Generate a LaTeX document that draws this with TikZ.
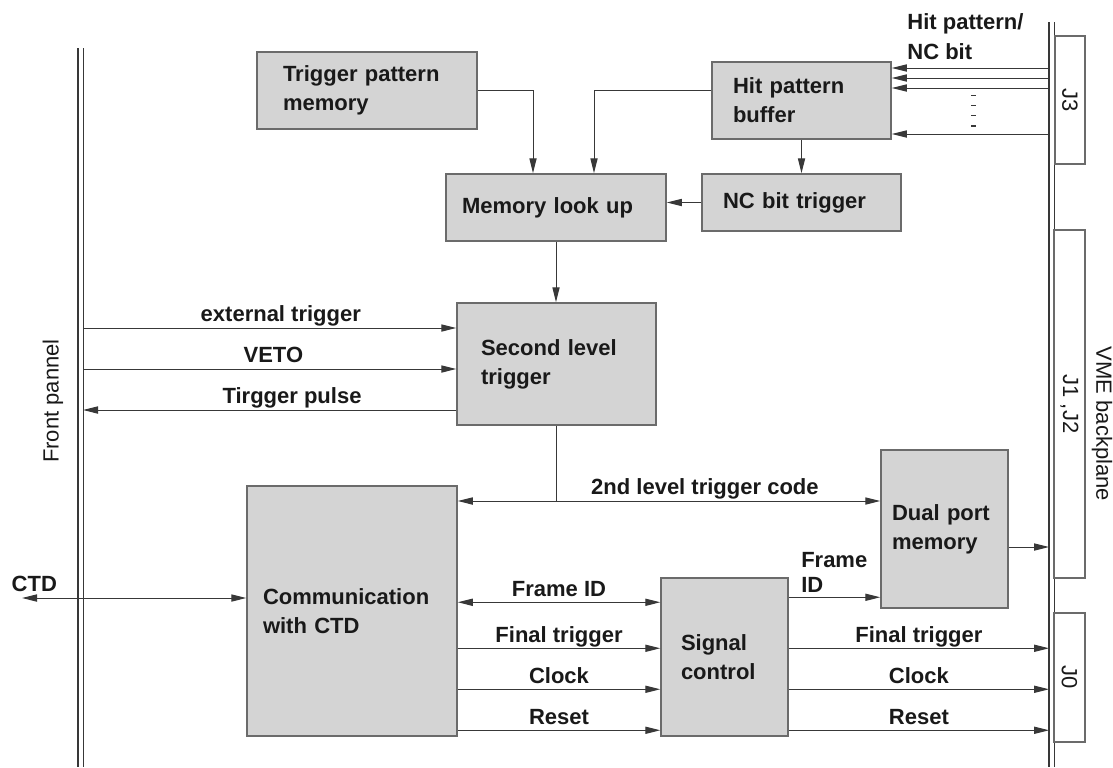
\documentclass[tikz,border=0pt]{standalone}
\usepackage{fontspec}
\setmainfont{Liberation Sans}
\usetikzlibrary{arrows.meta,positioning,calc}
\definecolor{blkfill}{gray}{0.83}
\definecolor{blkline}{gray}{0.42}
\definecolor{wirecol}{gray}{0.22}

\begin{document}
\begin{tikzpicture}[x=0.5pt, y=-0.5pt,
    blk/.style={draw=blkline, fill=blkfill, line width=0.75pt, rectangle, align=left, inner ysep=0pt, font=\fontsize{11}{14.5}\selectfont\bfseries, text=black!90},
    jconn/.style={draw=blkline, line width=0.6pt, rectangle, inner sep=0pt, rotate=-90, font=\fontsize{11}{13}\selectfont, text=black!90},
    wireline/.style={draw=wirecol, line width=0.5pt},
    wire/.style={wireline, -{Triangle[length=7.5pt,width=3.6pt]}},
    biwire/.style={wireline, {Triangle[length=7.5pt,width=3.6pt]}-{Triangle[length=7.5pt,width=3.6pt]}},
    lbl/.style={font=\fontsize{11}{13}\selectfont\bfseries, text=black!90, inner sep=0.5pt, text height=8pt, text depth=2.3pt},
    lbltwo/.style={font=\fontsize{11}{12.5}\selectfont\bfseries, text=black!90, inner sep=0pt, align=left},
    rail/.style={draw=wirecol, line width=0.55pt, double=white, double distance=2pt}]

    \useasboundingbox (0,0) rectangle (1113,767);

    % Front pannel and VME backplane
    \coordinate (fptop) at (80.5,48);
    \coordinate (fpbot) at (80.5,767);
    \coordinate (vmetop) at (1051.5,22);
    \coordinate (vmebot) at (1051.5,767);
    \draw [rail] (fptop) -- (fpbot);
    \draw [rail] (vmetop) -- (vmebot);
    \coordinate (fp) at (83,0);
    \coordinate (vme) at (1049,0);

    \node [rotate=90, font=\fontsize{11}{13}\selectfont, text=black!90] (fplbl) at (53,401) {Front pannel};
    \node [rotate=-90, font=\fontsize{11}{13}\selectfont, text=black!90] (vmelbl) at (1102,424) {VME backplane};

    \node [jconn, minimum width=64pt, minimum height=15pt] (j3) at (1070,100) {J3};
    \node [jconn, minimum width=174pt, minimum height=15.5pt] (j12) at (1069.5,404) {J1 ,J2};
    \node [jconn, minimum width=64.5pt, minimum height=15.5pt] (j0) at (1069.5,677.5) {J0};

    % Blocks
    \node [blk, text width=84pt, inner xsep=13pt, minimum height=38.5pt] (tpm) at (367,90.5) {Trigger pattern\\memory};
    \node [blk, text width=68.5pt, inner xsep=10.5pt, minimum height=38.5pt] (hpb) at (801.5,100.5) {Hit pattern\\buffer};
    \node [blk, text width=94pt, inner xsep=8pt, minimum height=33.5pt] (mlu) at (556,207.5) {Memory look up};
    \node [blk, text width=78.5pt, inner xsep=10.5pt, minimum height=28.5pt] (ncb) at (801.5,202.5) {NC bit trigger};
    \node [blk, text width=75.5pt, inner xsep=12pt, minimum height=61pt] (slt) at (556.5,364) {Second level\\trigger};
    \node [blk, text width=89pt, inner xsep=8pt, minimum height=125pt] (comm) at (352,611) {Communication\\with CTD};
    \node [blk, text width=52.5pt, inner xsep=5.5pt, minimum height=79pt] (dpm) at (944.5,529) {Dual port\\memory};
    \node [blk, text width=43.5pt, inner xsep=10pt, minimum height=79pt] (sigctl) at (724.5,657) {Signal\\control};

    % Hit pattern inputs
    \foreach \y [count=\i] in {68,78,88,134} {
        \coordinate (hp\i) at (1049,\y);
        \draw [wire] (hp\i) -- (hp\i -| hpb.east);
    }
    \foreach \y in {95.5,105.5,115.5,126} \draw [wireline, line width=0.9pt] (971,\y) -- ++(5,0);
    \node [lbltwo, font=\fontsize{11}{15}\selectfont\bfseries, anchor=north west] (hplbl) at (907,13) {Hit pattern/\\NC bit};

    % Memory look up
    \draw [wire] (tpm.east) -| ($(mlu.north)+(-23,0)$);
    \draw [wire] (hpb.west |- tpm.east) -| ($(mlu.north)+(38,0)$);
    \draw [wire] (hpb.south) -- (hpb.south |- ncb.north);
    \draw [wire] (ncb.west) -- (ncb.west -| mlu.east);
    \draw [wire] (mlu.south) -- (mlu.south |- slt.north);

    % Front pannel signals
    \coordinate (ext) at (83,328);
    \coordinate (veto) at (83,369);
    \coordinate (pulse) at (83,410);
    \draw [wire] (ext) -- (ext -| slt.west) node [lbl, above, pos=0.53] {external trigger};
    \draw [wire] (veto) -- (veto -| slt.west) node [lbl, above, pos=0.51] {VETO};
    \draw [wire] (slt.west |- pulse) -- (pulse) node [lbl, above, pos=0.44] {Tirgger pulse};

    % Trigger code
    \coordinate (code) at (559,501);
    \draw [wireline] (slt.south) -- (slt.south |- code);
    \draw [biwire] (code -| comm.east) -- (code -| dpm.west) node [lbl, above, pos=0.585] {2nd level trigger code};

    % CTD
    \coordinate (ctd) at (22,598);
    \draw [biwire] (ctd) -- (ctd -| comm.west) node [lbl, above, pos=0.055] {CTD};

    % Signal control
    \coordinate (fidin) at ([yshift=-12.5pt]sigctl.north west);
    \draw [biwire] (fidin -| comm.east) -- (fidin) node [lbl, above, midway] {Frame ID};
    \coordinate (fidout) at ([yshift=-10pt]sigctl.north east);
    \draw [wire] (fidout) -- (fidout -| dpm.west) node [lbltwo, anchor=south west, pos=0, xshift=6pt, yshift=2pt] {Frame\\ID};
    \foreach \dy/\txt in {35.5pt/Final trigger, 56pt/Clock, 76.5pt/Reset} {
        \coordinate (sin) at ([yshift=-\dy]sigctl.north west);
        \coordinate (sout) at ([yshift=-\dy]sigctl.north east);
        \draw [wire] (sin -| comm.east) -- (sin) node [lbl, above, midway] {\txt};
        \draw [wire] (sout) -- (sout -| vme) node [lbl, above, midway] {\txt};
    }

    % Dual port memory to backplane
    \coordinate (dpmout) at ([yshift=-9pt]dpm.east);
    \draw [wire] (dpmout) -- (dpmout -| vme);

\end{tikzpicture}
\end{document}
